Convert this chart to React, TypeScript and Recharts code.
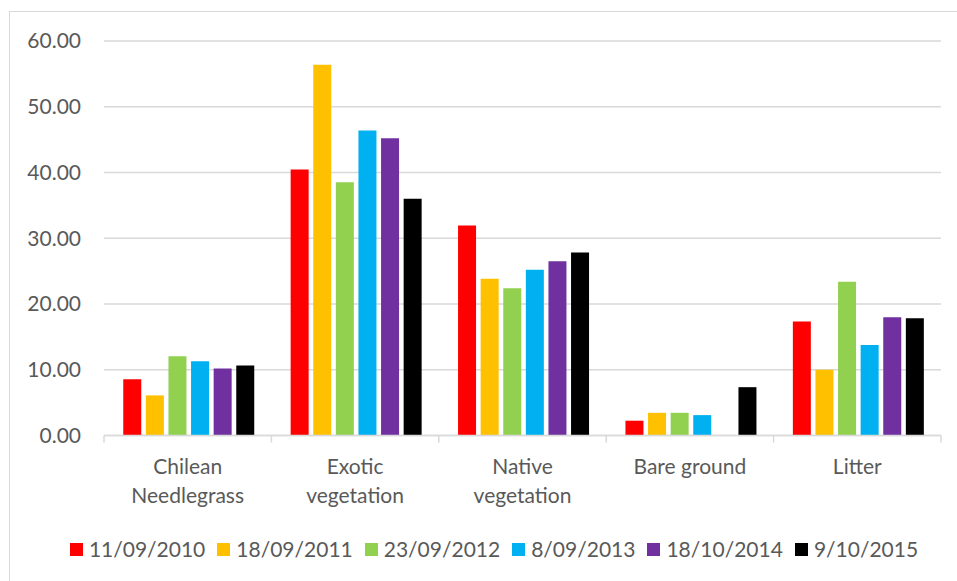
import React from 'react';
import { BarChart, Bar, XAxis, YAxis, CartesianGrid, Legend } from 'recharts';

// Ground cover (%) by survey date
const categories = ['Chilean\nNeedlegrass', 'Exotic\nvegetation', 'Native\nvegetation', 'Bare ground', 'Litter'];
const surveyDates = ['11/09/2010', '18/09/2011', '23/09/2012', '8/09/2013', '18/10/2014', '9/10/2015'];
const seriesColors = ['#FF0000', '#FFC000', '#92D050', '#00B0F0', '#7030A0', '#000000'];

const cover2010 = [8.55, 40.45, 31.95, 2.25, 17.35];
const cover2011 = [6.1, 56.4, 23.85, 3.45, 10.0];
const cover2012 = [12.05, 38.5, 22.4, 3.45, 23.4];
const cover2013 = [11.3, 46.4, 25.2, 3.1, 13.75];
const cover2014 = [10.2, 45.2, 26.5, null, 18.0];
const cover2015 = [10.65, 36.0, 27.85, 7.35, 17.85];

const yTicks = [0, 10, 20, 30, 40, 50, 60];

const seriesValues = [cover2010, cover2011, cover2012, cover2013, cover2014, cover2015];

const data = categories.map((name, i) => {
  const row: Record<string, string | number | null> = { name };
  surveyDates.forEach((d, s) => {
    row[d] = seriesValues[s][i];
  });
  return row;
});

const WIDTH = 957;
const HEIGHT = 581;
const PLOT_LEFT = 104;
const PLOT_RIGHT = 941;
const PLOT_TOP = 41;
const PLOT_BOTTOM = 435.5;
const X_AXIS_HEIGHT = 60;

const FONT = 'Lato, "Open Sans", sans-serif';
const TEXT = '#595959';
const GRID = '#d9d9d9';

function CategoryTick(props: any) {
  const { x, index, payload } = props;
  const band = (PLOT_RIGHT - PLOT_LEFT) / categories.length;
  const lines = String(payload.value).split('\n');
  const left = x - band / 2;
  const right = x + band / 2;
  return (
    <g>
      <line x1={left} x2={left} y1={PLOT_BOTTOM} y2={PLOT_BOTTOM + 7} stroke={GRID} strokeWidth={1.5} />
      {index === categories.length - 1 && (
        <line x1={right} x2={right} y1={PLOT_BOTTOM} y2={PLOT_BOTTOM + 7} stroke={GRID} strokeWidth={1.5} />
      )}
      {lines.map((ln, i) => (
        <text
          key={i}
          x={x}
          y={PLOT_BOTTOM + 38.5 + i * 29}
          textAnchor="middle"
          fontFamily={FONT}
          fontSize={21}
          fill={TEXT}
        >
          {ln}
        </text>
      ))}
    </g>
  );
}

function LegendContent() {
  return (
    <div style={{ display: 'flex', justifyContent: 'center', alignItems: 'center', fontFamily: FONT, fontSize: 21, color: TEXT, lineHeight: '24px' }}>
      {surveyDates.map((d, i) => (
        <div key={d} style={{ display: 'flex', alignItems: 'center', marginRight: i === surveyDates.length - 1 ? 0 : 12 }}>
          <span style={{ display: 'inline-block', width: 13, height: 13, background: seriesColors[i], marginRight: 6 }} />
          <span>{d}</span>
        </div>
      ))}
    </div>
  );
}

export default function App() {
  return (
    <div style={{ position: 'absolute', left: 0, top: 0, width: WIDTH, height: HEIGHT, overflow: 'hidden', background: '#fff' }}>
      <div style={{ position: 'absolute', left: 9, top: 11, right: -10, bottom: -10, border: `1px solid ${GRID}` }} />
      <div style={{ position: 'absolute', left: 0, top: 0 }}>
        <BarChart
          width={WIDTH}
          height={HEIGHT}
          data={data}
          margin={{ top: PLOT_TOP, right: WIDTH - PLOT_RIGHT, bottom: HEIGHT - PLOT_BOTTOM - X_AXIS_HEIGHT, left: 0 }}
          barCategoryGap="11.5%"
          barGap={4.6}
        >
          <CartesianGrid vertical={false} stroke={GRID} strokeWidth={1.5} />
          <XAxis
            dataKey="name"
            height={X_AXIS_HEIGHT}
            axisLine={{ stroke: GRID, strokeWidth: 1.5 }}
            tickLine={false}
            tick={<CategoryTick />}
            interval={0}
          />
          <YAxis
            width={PLOT_LEFT}
            domain={[0, 60]}
            ticks={yTicks}
            axisLine={false}
            tickLine={false}
            tickMargin={17}
            tickFormatter={(v: number) => v.toFixed(2)}
            tick={{ fontFamily: FONT, fontSize: 21, fill: TEXT }}
          />
          <Legend
            layout="horizontal"
            verticalAlign="middle"
            align="center"
            content={<LegendContent />}
            wrapperStyle={{ top: 537, left: 31, width: 926, height: 26 }}
          />
          {surveyDates.map((d, i) => (
            <Bar key={d} dataKey={d} fill={seriesColors[i]} isAnimationActive={false} />
          ))}
        </BarChart>
      </div>
    </div>
  );
}
